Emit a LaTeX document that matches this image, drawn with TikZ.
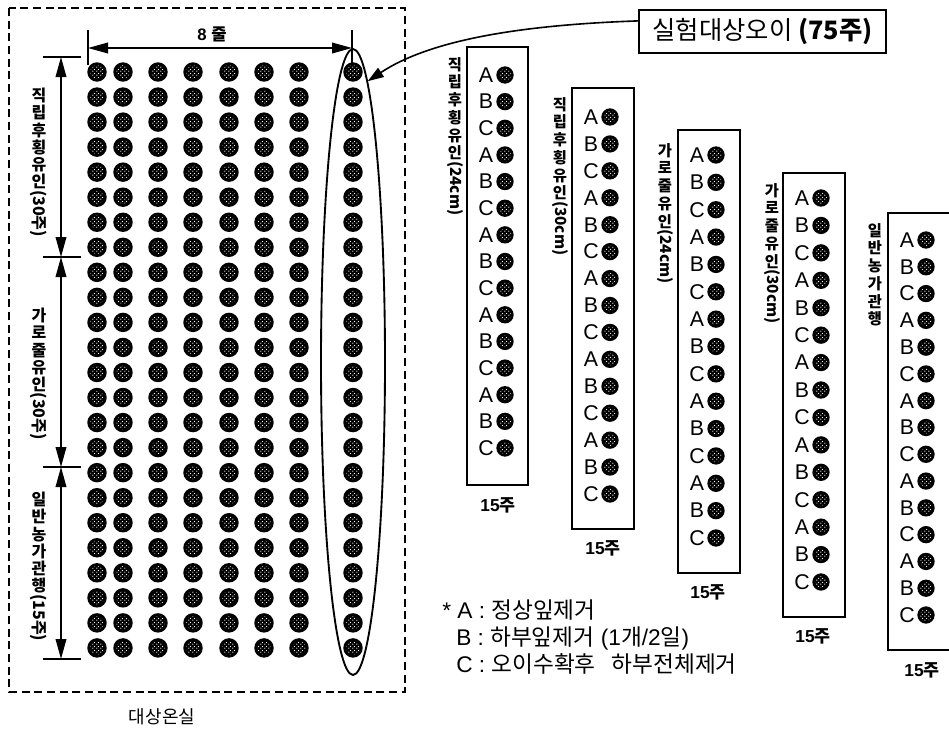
\documentclass[tikz,border=0pt]{standalone}
\usepackage{fontspec}
\setmainfont{Liberation Sans}
\newfontfamily\kr{Noto Sans CJK KR}
\usetikzlibrary{arrows.meta,patterns,shapes.geometric,calc}
\newcommand\K[1]{{\kr #1}}
\pgfdeclarepatternformonly{plantdots}{\pgfpointorigin}{\pgfqpoint{3pt}{3pt}}{\pgfqpoint{3pt}{3pt}}{%
  \pgfpathcircle{\pgfqpoint{0.75pt}{0.75pt}}{0.55pt}%
  \pgfpathcircle{\pgfqpoint{2.25pt}{2.25pt}}{0.55pt}%
  \pgfusepath{fill}}
\tikzset{
  plant/.pic={\fill[black] (0,0) circle[radius=7.3pt];
    \fill[pattern=plantdots, pattern color=white] (0,0) circle[radius=5pt];},
  splant/.pic={\fill[black] (0,0) circle[radius=6.5pt];
    \fill[pattern=plantdots, pattern color=white] (0,0) circle[radius=4.4pt];},
  dimarrow/.style={line width=1.1pt, {Triangle[length=15pt,width=8pt]}-{Triangle[length=15pt,width=8pt]}},
  tick/.style={line width=1.1pt},
  boxline/.style={line width=1.2pt},
  vlab/.style={font=\kr\bfseries\fontsize{12}{12.9}\selectfont, align=center, inner sep=0pt, anchor=north},
  vlabr/.style={font=\kr\bfseries\fontsize{12}{12.9}\selectfont, rotate=-90, anchor=west, inner sep=0.3pt},
  blab/.style={font=\kr\bfseries\fontsize{11.5}{13.3}\selectfont, align=center, inner sep=0pt, anchor=north},
  blabr/.style={font=\kr\bfseries\fontsize{11.5}{13.3}\selectfont, rotate=-90, anchor=west, inner sep=0.3pt},
  letter/.style={font=\fontsize{16}{18}\selectfont, inner sep=0pt},
  cnt/.style={font=\bfseries\fontsize{13}{15}\selectfont, inner sep=0pt},
  legendtxt/.style={font=\fontsize{17}{20}\selectfont, inner sep=0pt, anchor=west},
  callarrow/.style={line width=1.2pt, -{Triangle[length=12pt,width=8pt]}}
}
\newcommand\boxcol[6]{%
  \foreach \i in {0,...,14}{%
    \pgfmathsetmacro\yy{#4+\i*(#5-#4)/14}%
    \pgfmathtruncatemacro\m{mod(\i,3)}%
    \node[letter] (#6l\i) at ({#1+19},\yy) {\ifcase\m A\or B\or C\fi};
    \pic at ({#1+38},\yy) {splant};
  }}
\begin{document}
\begin{tikzpicture}[x=0.75pt,y=-0.75pt]
\useasboundingbox (0,0) rectangle (949,732);
% greenhouse
\draw[dashed, dash pattern=on 6pt off 3.5pt, line width=1.3pt] (9,8) rectangle (405,692);
\foreach \cx in {97,123,158,193,229,264,299,353}
  \foreach \k in {0,...,23}
    \pic at (\cx,{72+25.04*\k}) {plant};
% selection ellipse
\node[draw, ellipse, line width=1.4pt, minimum width=48pt, minimum height=469.5pt, inner sep=0pt] (sel) at (353,362) {};
% 8 rows dimension
\coordinate (h1) at (88,48);
\coordinate (h2) at (352,48);
\draw[tick] (88,30) -- (88,65);
\draw[tick] (352,30) -- (352,63);
\draw[dimarrow] (h1) -- (h2);
\node[font=\bfseries\fontsize{12.5}{14}\selectfont, inner sep=0pt] (eight) at (212,34) {8 \K{줄}};
% vertical dimensions
\coordinate (v0) at (61,57);
\coordinate (v1) at (61,257);
\coordinate (v2) at (61,467);
\coordinate (v3) at (61,659);
\foreach \yy in {57,257,467,659} \draw[tick] (43,\yy) -- (81,\yy);
\draw[dimarrow] (v0) -- (v1);
\draw[dimarrow] (v1) -- (v2);
\draw[dimarrow] (v2) -- (v3);
\node[vlab] (s1) at (39,88) {직\\립\\후\\횡\\유\\인};
\node[vlabr] (s1r) at (s1.south) {(30주)};
\node[vlab] (s2) at (39,308) {가\\로\\줄\\유\\인};
\node[vlabr] (s2r) at (s2.south) {(30주)};
\node[vlab] (s3) at (39,492) {일\\반\\농\\가\\관\\행};
\node[vlabr] (s3r) at (s3.south) {(15주)};
\node[font=\kr\fontsize{13.5}{16}\selectfont, inner sep=0pt] (gh) at (162,717) {대상온실};
% callout
\node[draw, line width=1.2pt, minimum width=185pt, minimum height=32pt, inner sep=0pt,
      font=\kr\fontsize{19}{20}\selectfont] (callout) at (762.5,31.5) {실험대상오이 {\bfseries (75주)}};
\coordinate (cs) at ($(callout.north west)!0.26!(callout.south west)$);
\draw[callarrow] (cs) .. controls (520,25) and (430,40) .. (sel.87);
% column boxes
\draw[boxline] (467,47) rectangle (528,485);
\boxcol{467}{47}{485}{75}{448}{b1}
\draw[boxline] (572,88) rectangle (634,529);
\boxcol{572}{88}{529}{117}{494}{b2}
\draw[boxline] (678,130) rectangle (740,573);
\boxcol{678}{130}{573}{155}{538}{b3}
\draw[boxline] (783,173) rectangle (845,617);
\boxcol{783}{173}{617}{198}{582}{b4}
\draw[boxline] (949,213) -- (888,213) -- (888,650) -- (949,650);
\boxcol{888}{213}{650}{240}{615}{b5}
% box labels
\node[blab] (t1) at (455,57) {직\\립\\후\\횡\\유\\인};
\node[blabr] (t1r) at (t1.south) {(24cm)};
\node[blab] (t2) at (560,97) {직\\립\\후\\횡\\유\\인};
\node[blabr] (t2r) at (t2.south) {(30cm)};
\node[blab] (t3) at (665,143) {가\\로\\줄\\유\\인};
\node[blabr] (t3r) at (t3.south) {(24cm)};
\node[blab] (t4) at (772,183) {가\\로\\줄\\유\\인};
\node[blabr] (t4r) at (t4.south) {(30cm)};
\node[blab] (t5) at (875,223) {일\\반\\농\\가\\관\\행};
% counts
\node[cnt] (n1) at (498,505) {15\K{주}};
\node[cnt] (n2) at (603,548) {15\K{주}};
\node[cnt] (n3) at (708,592) {15\K{주}};
\node[cnt] (n4) at (813,636) {15\K{주}};
\node[cnt] (n5) at (922,670) {15\K{주}};
% legend
\node[legendtxt] (lg1) at (442,610) {* A : \K{정상잎제거}};
\node[legendtxt] (lg2) at (456,638) {B : \K{하부잎제거} (1\K{개}/2\K{일})};
\node[legendtxt] (lg3) at (456,664) {C : \K{오이수확후}\hspace{0.7em}\K{하부전체제거}};
\end{tikzpicture}
\end{document}
